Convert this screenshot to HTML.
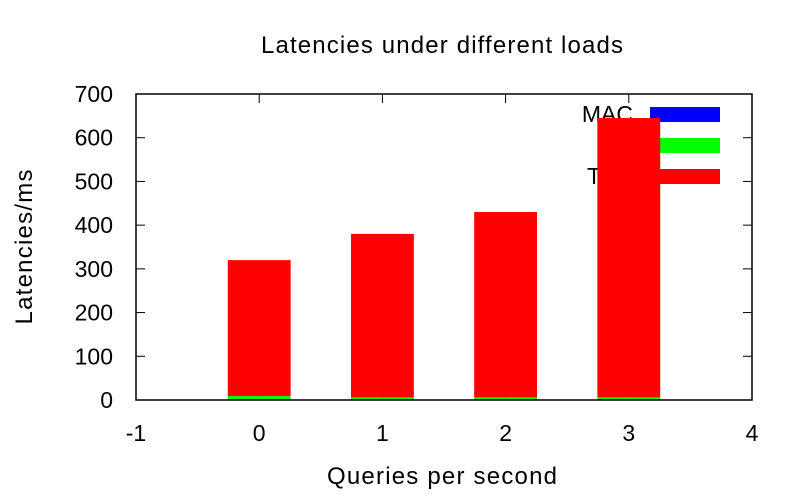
<!DOCTYPE html>
<html><head><meta charset="utf-8"><style>
body{margin:0;background:#fff}
svg{display:block;font-family:"Liberation Sans",sans-serif}
</style></head><body>
<svg id="c" width="800" height="500"></svg>
<script>
const categories=[0,1,2,3];
const macValues=[2,2,2,2];
const midValues=[7,4,4,4];
const tcpValues=[311,374,424,639];
const xTicks=[-1,0,1,2,3,4];
const yTicks=[0,100,200,300,400,500,600,700];
const legendLabels=["MAC","","TCP"];
const legendColors=["#0000ff","#00ff00","#ff0000"];
const NS="http://www.w3.org/2000/svg";
const svg=document.getElementById('c');
const L=136,R=752,T=94,B=400;
const xs=v=>L+(v+1)/5*(R-L);
const ys=v=>B-v/700*(B-T);
function mk(t,a,p){const e=document.createElementNS(NS,t);for(const k in a)e.setAttribute(k,a[k]);(p||svg).appendChild(e);return e;}
let t=mk('text',{x:442,y:53,'text-anchor':'middle','font-size':24,'textLength':362});t.textContent="Latencies under different loads";


t=mk('text',{x:442,y:484,'text-anchor':'middle','font-size':24,'textLength':230});t.textContent="Queries per second";


t=mk('text',{x:0,y:0,'text-anchor':'middle','font-size':24,'textLength':155,transform:'translate(32,247) rotate(-90)'});t.textContent="Latencies/ms";


yTicks.forEach(v=>{const y=ys(v);
 mk('line',{x1:L,x2:L+9,y1:y,y2:y,stroke:'#000'});mk('line',{x1:R,x2:R-9,y1:y,y2:y,stroke:'#000'});
 const e=mk('text',{x:113,y:y+8,'text-anchor':'end','font-size':23});e.textContent=v;
 
 });
xTicks.forEach(v=>{const x=xs(v);
 mk('line',{x1:x,x2:x,y1:B,y2:B-9,stroke:'#000'});mk('line',{x1:x,x2:x,y1:T,y2:T+9,stroke:'#000'});
 const e=mk('text',{x:x,y:441,'text-anchor':'middle','font-size':23});e.textContent=v;
 
 });
legendLabels.forEach((lb,i)=>{const y=114+i*31;
 const e=mk('text',{x:633,y:y+8,'text-anchor':'end','font-size':23});e.textContent=lb;
 
 
 const r=mk('rect',{x:650,y:y-7,width:70,height:15,fill:legendColors[i]});
 
 });
const bw=(R-L)/5*0.51;
categories.forEach((c,i)=>{const x=xs(c)-bw/2;let base=0;
 [[macValues[i],'#0000ff','bar-mac'],[midValues[i],'#00ff00','bar-mid'],[tcpValues[i],'#ff0000','bar-tcp']].forEach(([v,col,n])=>{
  const r=mk('rect',{x:x,y:ys(base+v),width:bw,height:ys(base)-ys(base+v),fill:col});
  
  
  base+=v;});});
mk('rect',{x:L,y:T,width:R-L,height:B-T,fill:'none',stroke:'#000','stroke-width':1.5});
</script>
</body></html>
